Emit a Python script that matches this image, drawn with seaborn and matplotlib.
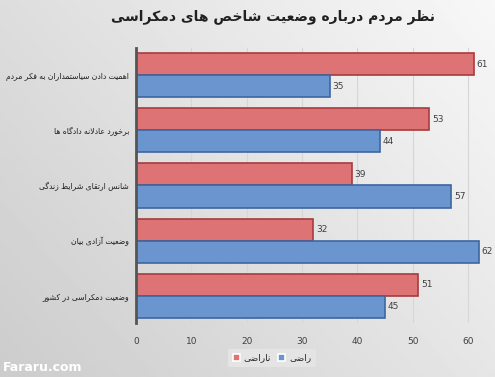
import numpy as np
import pandas as pd
import matplotlib
matplotlib.use('Agg')
import matplotlib.pyplot as plt
import seaborn as sns

title = 'نظر مردم درباره وضعیت شاخص های دمکراسی'
categories = ['اهمیت دادن سیاستمداران به فکر مردم',
              'برخورد عادلانه دادگاه ها',
              'شانس ارتقای شرایط زندگی',
              'وضعیت آزادی بیان',
              'وضعیت دمکراسی در کشور']
series = ['ناراضی', 'راضی']
unhappy = [61, 53, 39, 32, 51]
happy = [35, 44, 57, 62, 45]
ticks = [0, 10, 20, 30, 40, 50, 60]

# minimal arabic/persian shaping (matplotlib has no complex text layout)
# letter: (isolated, final, initial, medial); two forms = joins right only
FORMS = {
    'ا': (0xFE8D, 0xFE8E), 'آ': (0xFE81, 0xFE82), 'د': (0xFEA9, 0xFEAA),
    'ذ': (0xFEAB, 0xFEAC), 'ر': (0xFEAD, 0xFEAE), 'ز': (0xFEAF, 0xFEB0),
    'ژ': (0xFB8A, 0xFB8B), 'و': (0xFEED, 0xFEEE),
    'ب': (0xFE8F, 0xFE90, 0xFE91, 0xFE92), 'پ': (0xFB56, 0xFB57, 0xFB58, 0xFB59),
    'ت': (0xFE95, 0xFE96, 0xFE97, 0xFE98), 'ث': (0xFE99, 0xFE9A, 0xFE9B, 0xFE9C),
    'ج': (0xFE9D, 0xFE9E, 0xFE9F, 0xFEA0), 'چ': (0xFB7A, 0xFB7B, 0xFB7C, 0xFB7D),
    'ح': (0xFEA1, 0xFEA2, 0xFEA3, 0xFEA4), 'خ': (0xFEA5, 0xFEA6, 0xFEA7, 0xFEA8),
    'س': (0xFEB1, 0xFEB2, 0xFEB3, 0xFEB4), 'ش': (0xFEB5, 0xFEB6, 0xFEB7, 0xFEB8),
    'ص': (0xFEB9, 0xFEBA, 0xFEBB, 0xFEBC), 'ض': (0xFEBD, 0xFEBE, 0xFEBF, 0xFEC0),
    'ط': (0xFEC1, 0xFEC2, 0xFEC3, 0xFEC4), 'ظ': (0xFEC5, 0xFEC6, 0xFEC7, 0xFEC8),
    'ع': (0xFEC9, 0xFECA, 0xFECB, 0xFECC), 'غ': (0xFECD, 0xFECE, 0xFECF, 0xFED0),
    'ف': (0xFED1, 0xFED2, 0xFED3, 0xFED4), 'ق': (0xFED5, 0xFED6, 0xFED7, 0xFED8),
    'ک': (0xFB8E, 0xFB8F, 0xFB90, 0xFB91), 'گ': (0xFB92, 0xFB93, 0xFB94, 0xFB95),
    'ل': (0xFEDD, 0xFEDE, 0xFEDF, 0xFEE0), 'م': (0xFEE1, 0xFEE2, 0xFEE3, 0xFEE4),
    'ن': (0xFEE5, 0xFEE6, 0xFEE7, 0xFEE8), 'ه': (0xFEE9, 0xFEEA, 0xFEEB, 0xFEEC),
    'ی': (0xFBFC, 0xFBFD, 0xFBFE, 0xFBFF),
}


def shape(text):
    text = text.replace('لا', '\uFEFB')
    out = []
    n = len(text)
    for i, ch in enumerate(text):
        if ch == '\uFEFB':
            prev = text[i - 1] if i > 0 else ' '
            joins = prev in FORMS and len(FORMS[prev]) == 4
            out.append('\uFEFC' if joins else ch)
            continue
        if ch not in FORMS:
            out.append(ch)
            continue
        f = FORMS[ch]
        prev = text[i - 1] if i > 0 else ' '
        nxt = text[i + 1] if i < n - 1 else ' '
        jp = prev in FORMS and len(FORMS[prev]) == 4
        jn = len(f) == 4 and (nxt in FORMS or nxt == '\uFEFB')
        if jp and jn:
            out.append(chr(f[3]))
        elif jp:
            out.append(chr(f[1]))
        elif jn:
            out.append(chr(f[2]))
        else:
            out.append(chr(f[0]))
    return ''.join(out)[::-1]


df = pd.DataFrame({
    'cat': [shape(c) for c in categories] * 2,
    'val': unhappy + happy,
    'series': [shape(series[0])] * 5 + [shape(series[1])] * 5,
})

sns.set_theme(style='white')
plt.rcParams['font.family'] = ['DejaVu Sans']

fig = plt.figure(figsize=(4.95, 3.77), dpi=100)

# background gradient
bg = fig.add_axes([0, 0, 1, 1], zorder=-1)
gx, gy = np.meshgrid(np.linspace(0, 1, 200), np.linspace(0, 1, 200))
grad = 0.80 + 0.17 * (0.6 * gx + 0.4 * (1 - gy))
bg.imshow(grad, cmap='gray', vmin=0, vmax=1, aspect='auto', extent=[0, 1, 0, 1])
bg.axis('off')

ax = fig.add_axes([0.275, 0.142, 0.704, 0.732])
ax.set_facecolor('none')
pal = {shape(series[0]): '#DE7375', shape(series[1]): '#6A95CE'}
sns.barplot(data=df, y='cat', x='val', hue='series', orient='h', palette=pal,
            width=0.8, ax=ax, edgecolor=None, linewidth=1.2, saturation=1)
for p, ec in zip(ax.patches, ['#A83B3D'] * 5 + ['#3E65A0'] * 5):
    p.set_edgecolor(ec)
for c in ax.containers:
    ax.bar_label(c, padding=2, fontsize=6.5, color='#404040')

ax.set_xlim(0, 63)
ax.set_xticks(ticks)
ax.tick_params(axis='x', labelsize=6.5, colors='#404040', length=0, pad=10)
ax.tick_params(axis='y', labelsize=5.5, colors='#202020', length=0, pad=5)
ax.xaxis.grid(True, color='#d6d6d6', linewidth=0.8)
ax.set_axisbelow(True)
ax.set_xlabel('')
ax.set_ylabel('')
for s in ['top', 'right', 'bottom']:
    ax.spines[s].set_visible(False)
ax.spines['left'].set_color('#555555')
ax.spines['left'].set_linewidth(2)

leg = ax.legend(loc='upper center', bbox_to_anchor=(0.39, -0.075), ncol=2,
                fontsize=6.5, frameon=True, handlelength=0.8, handleheight=0.8,
                columnspacing=0.8, handletextpad=0.4, borderpad=0.5)
leg.get_frame().set_facecolor('#e4e4e4')
leg.get_frame().set_edgecolor('none')
leg.get_frame().set_alpha(1)

fig.text(0.552, 0.955, shape(title), ha='center', va='center', fontsize=10,
         fontweight='bold', color='#202020')
fig.text(0.005, 0.025, 'Fararu.com', ha='left', va='center', fontsize=9,
         fontweight='bold', color='white')

fig.savefig('out.png', dpi=100)
